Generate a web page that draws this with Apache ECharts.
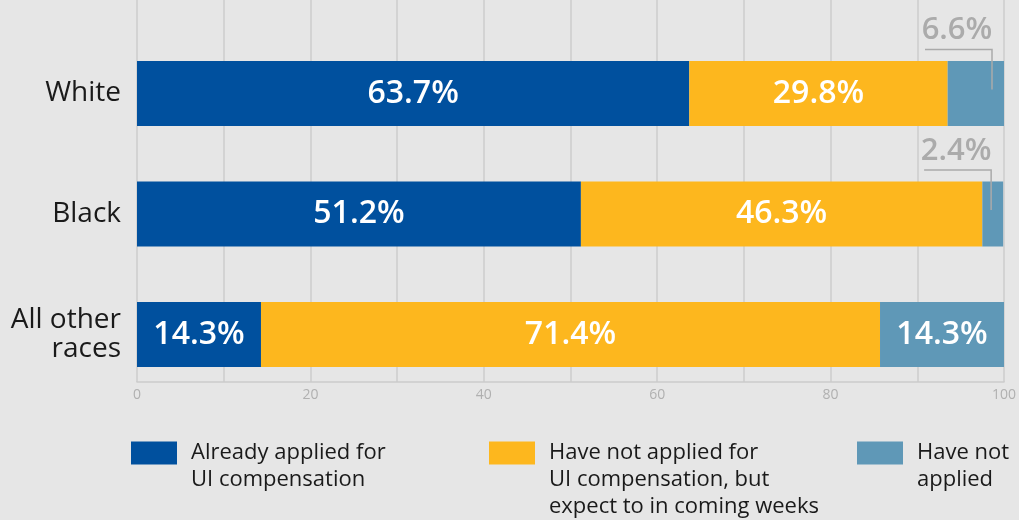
<!DOCTYPE html>
<html><head><meta charset="utf-8">
<script src="https://cdn.jsdelivr.net/npm/echarts@6/dist/echarts.min.js"></script>
<style>html,body{margin:0;padding:0;background:#e6e6e6;}#c{width:1019px;height:520px;}</style>
</head><body><div id="c"></div>
<script>
const categories = ['White', 'Black', 'All other\nraces'];
const seriesNames = ['Already applied for\nUI compensation', 'Have not applied for\nUI compensation, but\nexpect to in coming weeks', 'Have not\napplied'];
const applied = [63.7, 51.2, 14.3];
const expectTo = [29.8, 46.3, 71.4];
const notApplied = [6.6, 2.4, 14.3];
const xTicks = [0, 20, 40, 60, 80, 100];
const colors = ['#00509e', '#fdb71e', '#5f98b7'];

const FONT = '"Open Sans", "Noto Sans", sans-serif';
const valuesList = [applied, expectTo, notApplied];
const SMALL = 10;

const barSeries = valuesList.map((vals, si) => ({
  name: seriesNames[si], type: 'bar', stack: 'all', barWidth: 65,
  xAxisIndex: 0, yAxisIndex: 0,
  itemStyle: { color: colors[si] },
  label: { show: true, position: 'inside', color: '#fff', fontSize: 32, fontWeight: 600, fontFamily: FONT,
           formatter: p => p.value.toFixed(1) + '%' },
  emphasis: { disabled: true },
  data: vals.map(v => v < SMALL ? { value: v, label: { show: false } } : v)
}));

const calloutData = [];
notApplied.forEach((v, i) => {
  if (v < SMALL) calloutData.push([applied[i] + expectTo[i] + v, i, v]);
});

const callout = {
  type: 'custom', xAxisIndex: 0, yAxisIndex: 0, silent: true, z: 5,
  data: calloutData,
  renderItem: (params, api) => {
    const end = api.coord([Math.min(100, api.value(0)), api.value(1)]);
    const x = end[0], y = end[1];
    return { type: 'group', children: [
      { type: 'polyline', shape: { points: [[x - 79, y - 44], [x - 12, y - 44], [x - 12, y - 4]] },
        style: { stroke: '#aaaaaa', lineWidth: 1.5, fill: null } },
      { type: 'text', style: { text: api.value(2).toFixed(1) + '%', x: x - 47, y: y - 63, align: 'center', verticalAlign: 'middle',
        fill: '#ababab', fontSize: 31, fontWeight: 600, fontFamily: FONT } }
    ]};
  }
};

const legendLefts = [131, 489, 857];
const LH = 27;
const legends = seriesNames.map((n, i) => {
  const lines = n.split('\n').length;
  const H = (2 * lines - 1) * LH;
  return {
    left: legendLefts[i], top: 441.5 + 11.5 - H / 2, padding: 0, itemWidth: 46, itemHeight: 23, itemGap: 0,
    selectedMode: false, icon: 'rect',
    data: [{ name: n, itemStyle: { color: colors[i] } }],
    formatter: name => '\n'.repeat(lines - 1) + name,
    textStyle: { fontSize: 22, color: '#1a1a1a', fontFamily: FONT, lineHeight: LH, padding: [0, 0, 0, 9] }
  };
});

const option = {
  backgroundColor: '#e6e6e6',
  animation: false,
  legend: legends,
  grid: [
    { left: 137, right: 15, top: 33.25, bottom: 125.25 },
    { left: 137, right: 15, top: 0, bottom: 138 }
  ],
  xAxis: [
    { gridIndex: 0, type: 'value', min: 0, max: 100, show: false },
    { gridIndex: 1, type: 'value', min: 0, max: 100, interval: 10,
      axisLine: { show: true, lineStyle: { color: '#cbcbcb', width: 1.5 } },
      axisTick: { show: false },
      splitLine: { show: true, lineStyle: { color: '#cdcdcd', width: 1.5 } },
      axisLabel: { color: '#b0b0b0', fontSize: 14, fontFamily: FONT, margin: 6,
        formatter: v => xTicks.indexOf(v) >= 0 ? String(v) : '' } }
  ],
  yAxis: [
    { gridIndex: 0, type: 'category', inverse: true, data: categories,
      axisLine: { show: false }, axisTick: { show: false },
      axisLabel: { fontSize: 28, color: '#1a1a1a', fontFamily: FONT, margin: 16, lineHeight: 29 } },
    { gridIndex: 1, type: 'value', min: 0, max: 1, show: false }
  ],
  series: [...barSeries, callout]
};
const chart = echarts.init(document.getElementById('c'));
chart.setOption(option);
</script></body></html>
